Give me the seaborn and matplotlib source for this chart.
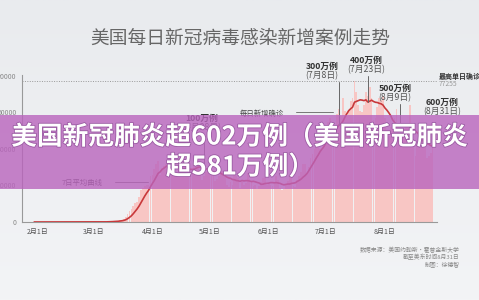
import numpy as np
import pandas as pd
import matplotlib
matplotlib.use("Agg")
import matplotlib.pyplot as plt
import matplotlib.patheffects as pe
from matplotlib.patches import Rectangle
from matplotlib.lines import Line2D
import seaborn as sns

# ---------------- data ----------------
start_date = "2020-01-30"
jan_feb = [0, 1,
           0, 1, 0, 3, 0, 0, 0, 0, 1, 0,
           0, 0, 0, 0, 0, 0, 0, 0, 0, 0,
           0, 0, 0, 1, 0, 0, 3, 1, 2]
mar = [20, 30, 25, 35, 75, 100, 120, 120, 200, 290,
       450, 460, 620, 700, 950, 1200, 1800, 2800, 4500, 5800,
       6900, 9000, 10200, 11000, 13600, 17500, 18800, 19500, 20500, 20400, 25000]
apr = [26000, 29000, 32000, 33500, 25800, 29500, 30500, 31500, 34000, 34000,
       30000, 28000, 25000, 26500, 29000, 31000, 32000, 30000, 26000, 27500,
       26500, 28500, 32000, 36000, 33500, 27000, 23000, 25000, 27500, 29500]
may = [33000, 28500, 26000, 22500, 23500, 25000, 28000, 28000, 25000, 20500,
       19000, 22000, 20500, 27000, 25000, 24000, 18500, 22000, 20500, 21500,
       27000, 23500, 22000, 19500, 20000, 18000, 19500, 22000, 24000, 24500, 20000]
jun = [21000, 20000, 19500, 21000, 25000, 23000, 18500, 17500, 18000, 21000,
       22500, 25000, 25500, 19500, 19000, 23000, 25000, 27500, 32000, 31500,
       27000, 30000, 35000, 37000, 40000, 45000, 43000, 40000, 39500, 45000]
jul = [51000, 55000, 57000, 46000, 45000, 49000, 59000, 62000, 58000, 68000,
       61000, 58000, 61000, 66000, 68000, 77255, 71000, 64000, 61000, 60000,
       64000, 71000, 69000, 74000, 68000, 56000, 57000, 63000, 68000, 67000, 69000]
aug = [57000, 48000, 47000, 52000, 52000, 57000, 62000, 54000, 46000, 49000,
       51000, 53000, 52000, 64000, 50000, 43000, 36000, 44000, 46000, 44000,
       48000, 46000, 35000, 36000, 38000, 44000]

tick_dates = ["2020-02-01", "2020-03-01", "2020-04-01", "2020-05-01",
              "2020-06-01", "2020-07-01", "2020-08-01"]
tick_labels = ["2月1日", "3月1日", "4月1日", "5月1日", "6月1日", "7月1日", "8月1日"]
y_ticks = [0, 20000, 40000, 60000, 80000]
max_daily = 77255

milestones = ["100万例", "300万例", "400万例", "500万例", "600万例"]
milestone_dates = ["2020-04-28", "2020-07-08", "2020-07-23", "2020-08-09", "2020-08-31"]
milestone_labels = ["(4月28日)", "(7月8日)", "(7月23日)", "(8月9日)", "(8月31日)"]

title = "美国每日新冠病毒感染新增案例走势"
banner_line1 = "美国新冠肺炎超602万例（美国新冠肺炎"
banner_line2 = "超581万例）"
source_lines = ["数据来源：美国约翰斯·霍普金斯大学", "截至美东时间8月31日", "制图：徐德智"]

# ---------------- prep ----------------
daily = jan_feb + mar + apr + may + jun + jul + aug
dates = pd.date_range(start_date, periods=len(daily), freq="D")
ref = pd.Timestamp("2020-02-01")
days = np.array((dates - ref).days)
df = pd.DataFrame({"day": days, "cases": daily})
df["avg7"] = df["cases"].rolling(7, min_periods=1).mean()

def dnum(s):
    return (pd.Timestamp(s) - ref).days

# ---------------- figure ----------------
sns.set_theme(style="white")
plt.rcParams["font.family"] = ["Noto Sans CJK SC", "DejaVu Sans"]
plt.rcParams["axes.unicode_minus"] = False

W, H = 479, 300
fig = plt.figure(figsize=(W / 100, H / 100), dpi=100)
fig.patch.set_facecolor("#eef0f2")

grad = np.linspace(0, 1, 256).reshape(-1, 1)
bg = fig.add_axes([0, 0, 1, 1], zorder=-10)
bg.imshow(grad, aspect="auto", cmap=matplotlib.colors.LinearSegmentedColormap.from_list(
    "g", ["#e9ebee", "#f3f4f6"]), extent=[0, 1, 0, 1], origin="upper")
bg.axis("off")

def px(x, y):
    return x / W, 1 - y / H

ax = fig.add_axes([22 / W, 78 / H, 415 / W, 147 / H])
ax.set_facecolor("none")

sns.barplot(data=df, x="day", y="cases", native_scale=True, color="#f8c6c4",
            saturation=1, width=0.92, errorbar=None, linewidth=0,
            edgecolor="none", ax=ax, zorder=2)
sns.lineplot(data=df, x="day", y="avg7", color="#c8383a", lw=1.2, ax=ax, zorder=4)

ax.set_xlim(-8.4, 209.3)
ax.set_ylim(0, 80500)
ax.axhline(max_daily, color="#999999", lw=0.7, ls=(0, (1, 1.5)), zorder=3)

ax.set_xticks([dnum(d) for d in tick_dates])
ax.set_xticklabels(tick_labels, fontsize=5, color="#555555")
ax.tick_params(axis="x", length=2, width=0.6, color="#999999", pad=2)
ax.set_yticks(y_ticks)
ax.set_yticklabels([str(v) for v in y_ticks], fontsize=5, color="#8a8a8a")
ax.tick_params(axis="y", length=0, pad=4)
ax.set_xlabel("")
ax.set_ylabel("")
for s in ["top", "right"]:
    ax.spines[s].set_visible(False)
for s in ["left", "bottom"]:
    ax.spines[s].set_color("#999999")
    ax.spines[s].set_linewidth(0.8)

# ---------------- title ----------------
fig.text(*px(240, 38), title, ha="center", va="center", fontsize=13.5,
         color="#666666", fontweight="light")

# ---------------- annotations ----------------
def ftext(x, y, s, **kw):
    fig.text(*px(x, y), s, **kw)

def fline(x0, y0, x1, y1, color="#777777", lw=0.7):
    fig.add_artist(Line2D([x0 / W, x1 / W], [1 - y0 / H, 1 - y1 / H],
                          color=color, lw=lw, zorder=5))

ms_pos = [(202, 118), (322, 66), (366, 60), (395, 88), (442, 102)]
for name, d, lab, (cx, cy) in zip(milestones, milestone_dates, milestone_labels, ms_pos):
    ftext(cx, cy, name, ha="center", va="center", fontsize=6.3,
          color="#333333", fontweight="bold")
    ftext(cx, cy + 10, lab, ha="center", va="center", fontsize=6.3,
          color="#555555")
    dd = dnum(d)
    if dd <= df["day"].max():
        yv = float(df.loc[df["day"] == dd, "avg7"].iloc[0])
        top_px = cy + 16
        top_v = (222 - top_px) / 147 * 80500
        ax.plot([dd, dd], [yv, top_v], color="#666666", lw=0.7, zorder=5)

ftext(240, 114, "每日新增确诊", ha="left", va="center", fontsize=5.3, color="#444444")
fline(296, 112, 333, 112)
ftext(62, 183, "7日平均曲线", ha="left", va="center", fontsize=5.3, color="#444444")
fline(115, 182, 148, 182)

ftext(439, 76, "最高单日确诊", ha="left", va="center", fontsize=5.0,
      color="#333333", fontweight="bold")
ftext(439, 84, str(max_daily), ha="left", va="center", fontsize=4.8, color="#999999")

for i, s in enumerate(source_lines):
    ftext(460, 250 + i * 7, s, ha="right", va="center", fontsize=4.2, color="#888888")

# ---------------- banner ----------------
fig.add_artist(Rectangle(px(0, 189), 1, 74 / H, transform=fig.transFigure,
                         facecolor="#b964bd", alpha=0.8, edgecolor="none", zorder=20))
shadow = [pe.withStroke(linewidth=1.2, foreground="#9b5aa3")]
fig.text(*px(240, 137), banner_line1, ha="center", va="center", fontsize=18.5,
         color="white", fontweight="heavy", zorder=21, path_effects=shadow)
fig.text(*px(240, 167), banner_line2, ha="center", va="center", fontsize=18.5,
         color="white", fontweight="heavy", zorder=21, path_effects=shadow)

fig.savefig("out.png", dpi=100, facecolor=fig.get_facecolor())
